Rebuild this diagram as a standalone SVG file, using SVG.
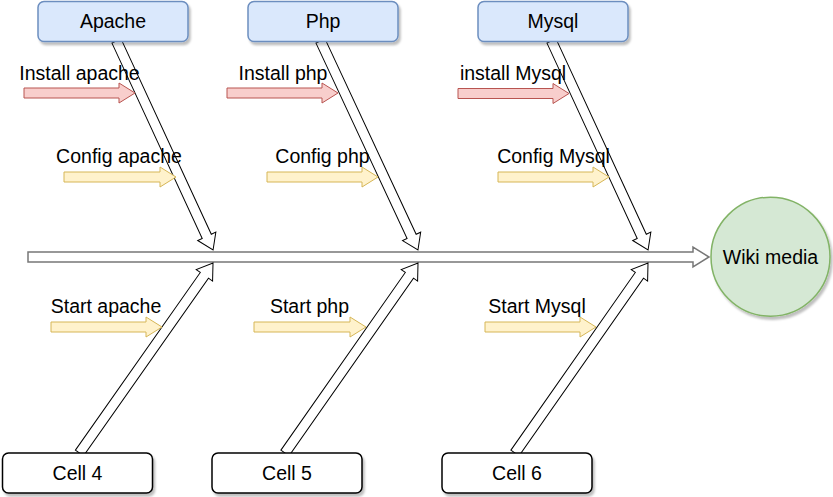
<svg xmlns="http://www.w3.org/2000/svg" width="833" height="497" viewBox="0 0 833 497">
  <defs>
    <filter id="shadow" x="-10%" y="-10%" width="130%" height="140%">
      <feDropShadow dx="2" dy="3" stdDeviation="1" flood-color="#000" flood-opacity="0.25"/>
    </filter>
  </defs>
  <style>
    text { font-family: "Liberation Sans", Arial, Helvetica, sans-serif; font-size: 19.5px; fill: #000; text-anchor: middle; }
    .top { fill: #dae8fc; stroke: #6c8ebf; stroke-width: 1.5; filter: url(#shadow); }
    .cell { fill: #ffffff; stroke: #000000; stroke-width: 1.5; filter: url(#shadow); }
    .goal { fill: #d5e8d4; stroke: #82b366; stroke-width: 1.5; filter: url(#shadow); }
    .spine { fill: #ffffff; stroke: #777777; stroke-width: 1.5; }
    .rib { fill: #ffffff; stroke: #000000; stroke-width: 1; }
    .red { fill: #f8cecc; stroke: #b85450; stroke-width: 1; }
    .yel { fill: #fff2cc; stroke: #d6b656; stroke-width: 1; }
  </style>
  <rect width="833" height="497" fill="#ffffff"/>

  <g id="connectors">
    <polygon class="spine" points="28,252 693,252 693,247 709,257 693,267 693,262 28,262"/>
    <polygon class="rib" transform="translate(116.5,41) rotate(65.2)" points="0,-5 215.2,-5 215.2,-10 230.2,0 215.2,10 215.2,5 0,5"/>
    <polygon class="rib" transform="translate(320.5,41) rotate(65.0)" points="0,-5 215.6,-5 215.6,-10 230.6,0 215.6,10 215.6,5 0,5"/>
    <polygon class="rib" transform="translate(551.5,41) rotate(65.2)" points="0,-5 215.2,-5 215.2,-10 230.2,0 215.2,10 215.2,5 0,5"/>
    <polygon class="rib" transform="translate(79.5,453) rotate(-54.9)" points="0,-5 217.2,-5 217.2,-10 232.2,0 217.2,10 217.2,5 0,5"/>
    <polygon class="rib" transform="translate(285,453) rotate(-55.0)" points="0,-5 216.9,-5 216.9,-10 231.9,0 216.9,10 216.9,5 0,5"/>
    <polygon class="rib" transform="translate(515,453) rotate(-55.0)" points="0,-5 216.9,-5 216.9,-10 231.9,0 216.9,10 216.9,5 0,5"/>

    <polygon class="red" transform="translate(24,93)" points="0,-5 95,-5 95,-10 111,0 95,10 95,5 0,5"/>
    <polygon class="red" transform="translate(227,93)" points="0,-5 95,-5 95,-10 111,0 95,10 95,5 0,5"/>
    <polygon class="red" transform="translate(458,93.5)" points="0,-5 95,-5 95,-10 111,0 95,10 95,5 0,5"/>
    <polygon class="yel" transform="translate(64,177)" points="0,-5 96,-5 96,-10 112,0 96,10 96,5 0,5"/>
    <polygon class="yel" transform="translate(267,177)" points="0,-5 95,-5 95,-10 111,0 95,10 95,5 0,5"/>
    <polygon class="yel" transform="translate(498,177)" points="0,-5 95,-5 95,-10 111,0 95,10 95,5 0,5"/>
    <polygon class="yel" transform="translate(51,327)" points="0,-5 95,-5 95,-10 111,0 95,10 95,5 0,5"/>
    <polygon class="yel" transform="translate(254,327)" points="0,-5 96,-5 96,-10 112,0 96,10 96,5 0,5"/>
    <polygon class="yel" transform="translate(485,327)" points="0,-5 95,-5 95,-10 111,0 95,10 95,5 0,5"/>
  </g>

  <g id="label-install-apache"><text x="79.5" y="80">Install apache</text></g>
  <g id="label-install-php"><text x="283" y="80">Install php</text></g>
  <g id="label-install-mysql"><text x="513" y="80">install Mysql</text></g>
  <g id="label-config-apache"><text x="119" y="163">Config apache</text></g>
  <g id="label-config-php"><text x="322.5" y="163">Config php</text></g>
  <g id="label-config-mysql"><text x="553.5" y="163">Config Mysql</text></g>
  <g id="label-start-apache"><text x="106" y="313">Start apache</text></g>
  <g id="label-start-php"><text x="309.5" y="313">Start php</text></g>
  <g id="label-start-mysql"><text x="537" y="313">Start Mysql</text></g>

  <g id="node-apache">
    <rect class="top" x="38" y="1.5" width="150" height="40" rx="6"/>
    <text x="113" y="28">Apache</text>
  </g>
  <g id="node-php">
    <rect class="top" x="248" y="1.5" width="150" height="40" rx="6"/>
    <text x="323" y="28">Php</text>
  </g>
  <g id="node-mysql">
    <rect class="top" x="478" y="1.5" width="150" height="40" rx="6"/>
    <text x="553" y="28">Mysql</text>
  </g>

  <g id="node-cell4">
    <rect class="cell" x="2.5" y="453" width="150" height="40" rx="6"/>
    <text x="77.5" y="480">Cell 4</text>
  </g>
  <g id="node-cell5">
    <rect class="cell" x="212" y="453" width="150" height="40" rx="6"/>
    <text x="287" y="480">Cell 5</text>
  </g>
  <g id="node-cell6">
    <rect class="cell" x="442" y="453" width="150" height="40" rx="6"/>
    <text x="517" y="480">Cell 6</text>
  </g>

  <g id="node-wiki-media">
    <circle class="goal" cx="770.5" cy="256.7" r="59.5"/>
    <text x="770.5" y="264">Wiki media</text>
  </g>
</svg>
